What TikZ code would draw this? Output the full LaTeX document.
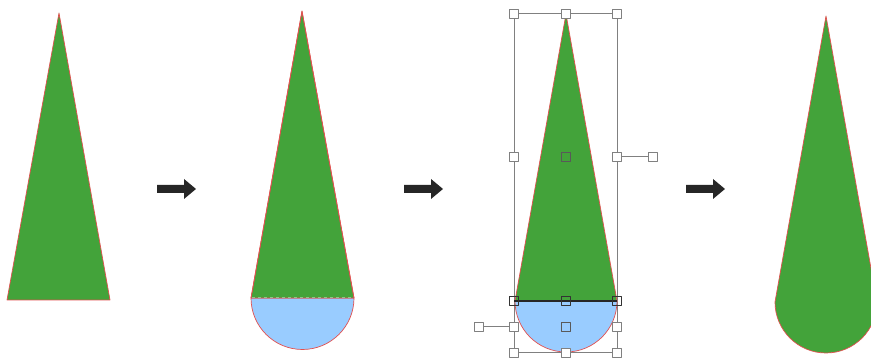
\documentclass[tikz,border=0pt]{standalone}
\usepackage{tikz}

\definecolor{leaf}{RGB}{67,163,58}
\definecolor{drop}{RGB}{153,204,255}
\definecolor{edge}{RGB}{226,80,80}
\definecolor{frame}{RGB}{128,128,128}

\begin{document}
\begin{tikzpicture}[x=1pt, y=1pt, line join=round,
    leafpart/.style={fill=leaf, draw=edge, line width=0.7pt},
    droppart/.style={fill=drop, draw=edge, line width=0.7pt},
    handle/.style={fill=white, draw=frame, line width=1pt},
    guide/.style={draw=frame, line width=1pt}]

  \useasboundingbox (0,0) rectangle (871,358);
  \clip (0,0) rectangle (871,358);

  % step 1: triangle
  \path [leafpart] (59,345) -- (110,58) -- (7,58) -- cycle;

  % step 2: triangle with half disc
  \path [droppart] (251,60) arc [start angle=180, end angle=360, radius=51.5] -- cycle;
  \path [leafpart] (302,347) -- (354,60) -- (251,60) -- cycle;
  \draw [leaf!60!white, dashed, line width=1pt] (252,60) -- (353,60);
  \draw [edge, line width=0.7pt] (302,347) -- (354,60) (302,347) -- (251,60);

  % step 3: selection frames
  \draw [guide] (514,344) rectangle (617,57);
  \draw [guide] (514,57) -- (514,5) -- (617,5) -- (617,57);
  \draw [guide] (617,201) -- (653,201);
  \draw [guide] (514,31) -- (479,31);
  \path [droppart] (515,57) arc [start angle=180, end angle=360, radius=51] -- cycle;
  \path [leafpart] (566,344) -- (617,57) -- (515,57) -- cycle;
  \draw [black!85, line width=1.2pt] (514,57) -- (617,57);

  % handles
  \foreach \x/\y in {514/344, 566/344, 617/344, 514/201, 617/201, 653/201,
                     479/31, 514/31, 617/31, 514/5, 566/5, 617/5}
    \path [handle] (\x-4.5,\y-4.5) rectangle (\x+4.5,\y+4.5);
  \foreach \x in {514,566,617}
    \path [handle, fill=none, draw=black!80, line width=1.3pt]
      (\x-4.5,57-4.5) rectangle (\x+4.5,57+4.5);
  \foreach \x/\y in {566/201, 566/31}
    \path [handle, fill=none, draw=black!65] (\x-4.5,\y-4.5) rectangle (\x+4.5,\y+4.5);

  % step 4: merged drop
  \path [leafpart] (826,342) -- (877,56) arc [start angle=0, end angle=-180, radius=51]
    -- cycle;

  % arrows
  \foreach \x in {157,404,686}
    \fill [black!85] (\x,173) -- (\x+27,173) -- (\x+27,179) -- (\x+39,169)
      -- (\x+27,159) -- (\x+27,165) -- (\x,165) -- cycle;
\end{tikzpicture}
\end{document}
